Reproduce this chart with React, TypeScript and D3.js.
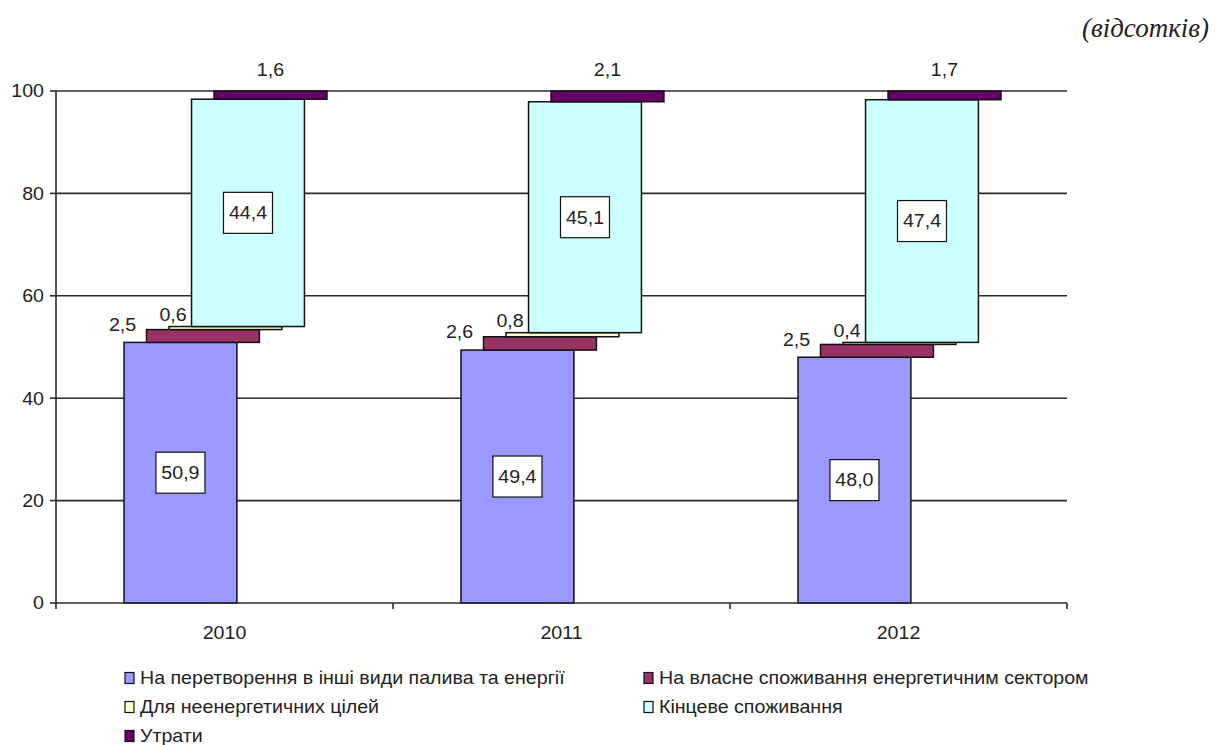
import React from "react";
import * as d3 from "d3";

// Energy balance structure by year, percent of total supply
const years = ["2010", "2011", "2012"];
const transformation = [50.9, 49.4, 48.0];
const ownUse = [2.5, 2.6, 2.5];
const nonEnergy = [0.6, 0.8, 0.4];
const finalConsumption = [44.4, 45.1, 47.4];
const losses = [1.6, 2.1, 1.7];

const seriesNames = [
  "На перетворення в інші види палива та енергії",
  "На власне споживання енергетичним сектором",
  "Для неенергетичних цілей",
  "Кінцеве споживання",
  "Утрати",
];
const seriesKeys = ["transformation", "ownUse", "nonEnergy", "finalConsumption", "losses"];
const seriesColors = ["#9999ff", "#993366", "#ffffcc", "#ccffff", "#660066"];
const yTicks = [0, 20, 40, 60, 80, 100];

const W = 1216;
const H = 745;
const left = 56;
const right = 1067;
const top = 91;
const bottom = 603;
const FONT = "'Liberation Sans', Arial, sans-serif";
const TEXT = "#222";
const STRETCH = 1.09;

const fmt = (v: number) => d3.format(".1f")(v).replace(".", ",");

// Sans label with a slight horizontal stretch
function Label(props: { x: number; y: number; anchor?: "start" | "middle" | "end"; size?: number; children: React.ReactNode }) {
  const { x, y, anchor = "start", size = 18, children } = props;
  return (
    <text transform={`translate(${x},${y}) scale(${STRETCH},1)`} dy="0.35em" textAnchor={anchor}
      fontFamily={FONT} fontSize={size} fill={TEXT}>
      {children}
    </text>
  );
}

export default function App() {
  const rows = years.map((year, i) => ({
    year,
    transformation: transformation[i],
    ownUse: ownUse[i],
    nonEnergy: nonEnergy[i],
    finalConsumption: finalConsumption[i],
    losses: losses[i],
  }));
  const stacked = d3.stack<any>().keys(seriesKeys)(rows);

  const x = d3.scaleBand<string>().domain(years).range([left, right]).paddingInner(0).paddingOuter(0);
  const y = d3.scaleLinear().domain([0, 100]).range([bottom, top]);
  const bw = x.bandwidth();
  const segOffset = bw * 0.2018;
  const segStep = bw * 0.0668;
  const segWidth = bw * 0.335;
  const segX = (year: string, s: number) => (x(year) as number) + segOffset + s * segStep;

  const bandEdges = years.map((yr) => x(yr) as number).concat([right]);

  return (
    <svg width={W} height={H} style={{ position: "absolute", left: 0, top: 0, background: "#fff" }}>
      <rect x={0} y={0} width={W} height={H} fill="#fff" />
      <text x={1209} y={37} textAnchor="end" fontFamily="'Liberation Serif', 'DejaVu Serif', serif" fontStyle="italic" fontSize={27} fill={TEXT}>
        (відсотків)
      </text>

      {/* gridlines */}
      {yTicks.filter((t) => t > 0).map((t) => (
        <line key={t} x1={left} x2={right} y1={y(t)} y2={y(t)} stroke="#2a2a2a" strokeWidth={1.6} />
      ))}

      {/* y axis */}
      <line x1={left} x2={left} y1={top} y2={bottom} stroke="#2a2a2a" strokeWidth={1.6} />
      {yTicks.map((t) => (
        <g key={t}>
          <line x1={left - 6} x2={left} y1={y(t)} y2={y(t)} stroke="#2a2a2a" strokeWidth={1.6} />
          <Label x={44} y={y(t)} anchor="end">{t}</Label>
        </g>
      ))}

      {/* bars */}
      {stacked.map((layer, s) =>
        layer.map((d, i) => {
          const yr = years[i];
          const x0 = segX(yr, s);
          const y0 = y(d[1]);
          const h = y(d[0]) - y(d[1]);
          return (
            <rect key={`${s}-${i}`} x={x0} y={y0} width={segWidth} height={h}
              fill={seriesColors[s]} stroke="#111" strokeWidth={1.5} />
          );
        })
      )}

      {/* x axis */}
      <line x1={left} x2={right} y1={bottom} y2={bottom} stroke="#2a2a2a" strokeWidth={1.6} />
      {bandEdges.map((bx, i) => (
        <line key={i} x1={bx} x2={bx} y1={bottom} y2={bottom + 6} stroke="#2a2a2a" strokeWidth={1.6} />
      ))}
      {years.map((yr) => (
        <Label key={yr} x={(x(yr) as number) + bw / 2} y={633} anchor="middle">{yr}</Label>
      ))}

      {/* value labels */}
      {stacked.map((layer, s) =>
        layer.map((d, i) => {
          const yr = years[i];
          const v = d[1] - d[0];
          const x0 = segX(yr, s);
          const label = fmt(v);
          if (s === 0 || s === 3) {
            const cx = x0 + segWidth / 2;
            const cy = y((d[0] + d[1]) / 2);
            return (
              <g key={`l${s}-${i}`}>
                <rect x={cx - 24.5} y={cy - 20.5} width={49} height={41} fill="#fff" stroke="#111" strokeWidth={1.2} />
                <Label x={cx} y={cy} anchor="middle">{label}</Label>
              </g>
            );
          }
          let lx = x0 + segWidth / 2;
          let ly = y(d[1]) - 21;
          if (s === 1) {
            lx = x0 - 24;
            ly = y(d[1]) - 5;
          } else if (s === 2) {
            lx = x0 + 4;
            ly = y(d[1]) - 12;
          }
          return <Label key={`l${s}-${i}`} x={lx} y={ly} anchor="middle">{label}</Label>;
        })
      )}

      {/* legend */}
      {seriesNames.map((name, s) => {
        const col = s % 2;
        const row = Math.floor(s / 2);
        const lx = col === 0 ? 125 : 644;
        const ly = 678 + row * 29;
        return (
          <g key={name}>
            <rect x={lx} y={ly - 5.5} width={9} height={11} fill={seriesColors[s]} stroke="#111" strokeWidth={1.2} />
            <Label x={lx + 15} y={ly}>{name}</Label>
          </g>
        );
      })}
    </svg>
  );
}
